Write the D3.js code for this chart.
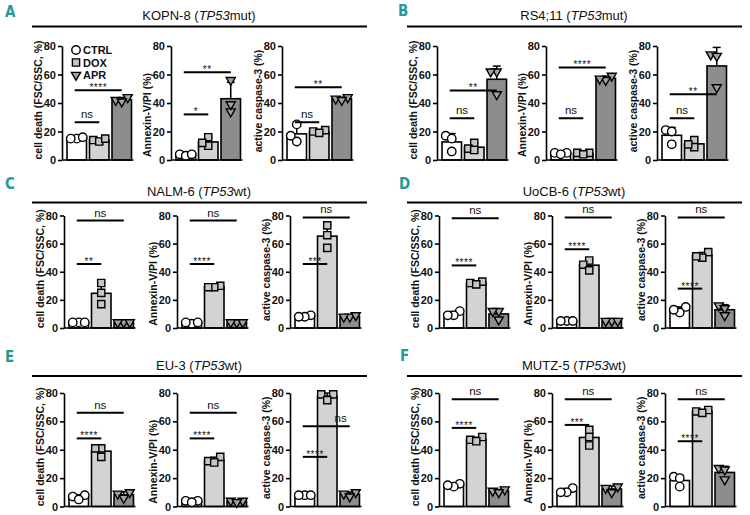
<!DOCTYPE html>
<html><head><meta charset="utf-8">
<script src="https://cdn.jsdelivr.net/npm/d3@7"></script>
<style>
body{margin:0;background:#fff}
svg{display:block}
text{font-family:"Liberation Sans",Arial,sans-serif;fill:#111}
</style>
</head><body>
<svg id="chart" width="750" height="515"></svg>
<script>
// ---------- data ----------
const groups = ["CTRL", "DOX", "APR"];
const measures = ["cell death (FSC/SSC, %)", "Annexin-V/PI (%)", "active caspase-3 (%)"];
const yTicks = [0, 20, 40, 60, 80];
const panelLetters = ["A", "B", "C", "D", "E", "F"];
const cellLines = ["KOPN-8", "RS4;11", "NALM-6", "UoCB-6", "EU-3", "MUTZ-5"];
const tp53Status = ["mut", "mut", "wt", "wt", "wt", "wt"];

// replicate values: [measure][group][replicate]
const kopn8 = [[[15,16,15],[14,13,15],[42,44,41]], [[4,3,4],[16,10,12],[34,56,39]], [[13,25,17],[20,21,19],[43,44,42]]];
const rs411 = [[[6,17,15],[12,8,7],[62,46,62]], [[5,5,4],[5,5,4],[59,56,57]], [[21,11,20],[14,9,11],[74,51,73]]];
const nalm6 = [[[4,4,4],[17,32,25],[4,4,4]], [[3,4,4],[30,29,29],[4,4,4]], [[9,8,8],[57,66,73],[8,9,8]]];
const uocb6 = [[[12,9,9],[33,32,31],[12,12,6]], [[5,5,5],[48,45,41],[5,5,5]], [[15,11,13],[54,50,51],[16,14,9]]];
const eu3   = [[[8,7,5],[41,41,35],[10,9,6]], [[4,4,3],[35,32,31],[4,4,3]], [[8,8,8],[79,79,75],[10,9,7]]];
const mutz5 = [[[16,14,15],[49,47,46],[12,11,10]], [[13,10,10],[54,49,43],[14,13,10]], [[21,20,14],[68,67,66],[27,26,19]]];

// significance brackets: [measure] -> [fromGroup, toGroup, label, value, labelAnchor]
const kopn8Sig = [[[0,1,"ns",26.5],[0,2,"****",49]], [[0,1,"*",32],[0,2,"**",61.5]], [[0,1,"ns",26.5],[0,2,"**",51]]];
const rs411Sig = [[[0,1,"ns",29.3],[0,2,"**",48.8]], [[0,1,"ns",29.3],[0,2,"****",65]], [[0,1,"ns",29.3],[0,2,"**",46.2]]];
const nalm6Sig = [[[0,1,"**",45.5],[0,2,"ns",76.4]], [[0,1,"****",45.5],[0,2,"ns",76.4]], [[0,1,"***",45.5],[0,2,"ns",78.6]]];
const uocb6Sig = [[[0,1,"****",44.5],[0,2,"ns",78]], [[0,1,"****",56],[0,2,"ns",78.6]], [[0,1,"****",28],[0,2,"ns",78.6]]];
const eu3Sig   = [[[0,1,"****",48],[0,2,"ns",66]], [[0,1,"****",48],[0,2,"ns",66]], [[0,1,"****",35],[0,2,"ns",56.5,"end"]]];
const mutz5Sig = [[[0,1,"****",55.4],[0,2,"ns",75.6]], [[0,1,"***",57.5],[0,2,"ns",75.6]], [[0,1,"****",46],[0,2,"ns",75.6]]];

const panelValues = [kopn8, rs411, nalm6, uocb6, eu3, mutz5];
const panelSig = [kopn8Sig, rs411Sig, nalm6Sig, uocb6Sig, eu3Sig, mutz5Sig];

// ---------- layout / style ----------
const colX = [0, 375];
const letterPos = [[5, 17], [398, 16], [5, 189], [399, 189], [5, 362], [400, 361]];
const rows = [
  {titleY: 20, lineY: 26.5, top: 46, zero: 160, axes: [62, 171, 282]},
  {titleY: 196, lineY: 202.5, top: 215.5, zero: 328, axes: [64, 177, 290]},
  {titleY: 370, lineY: 376, top: 393, zero: 506.5, axes: [64, 177, 290]}
];
const barFill = {CTRL: "#ffffff", DOX: "#d3d3d3", APR: "#8d8d8d"};
const markFill = {CTRL: "#ffffff", DOX: "#c6c6c6", APR: "#a3a3a3"};
const labelShift = [-3, 12, -2];
const teal = "#1f9c97";

const svg = d3.select("#chart");

function markerPath(g) {
  if (g === "CTRL") return d3.symbol(d3.symbolCircle, 56)();
  if (g === "DOX") return d3.symbol(d3.symbolSquare, 52)();
  return d3.symbol(d3.symbolTriangle, 36)();
}
function markerTransform(g, x, y) {
  return g === "APR" ? `translate(${x},${y}) rotate(180)` : `translate(${x},${y})`;
}
function layoutPoints(vals, y) {
  const order = vals.map((v, i) => i).sort((a, b) => vals[a] - vals[b]);
  const placed = [], res = new Array(vals.length);
  const offs = [0, -6, 6, -12, 12];
  for (const i of order) {
    const py = y(vals[i]);
    for (const o of offs) {
      if (placed.every(p => Math.abs(p.y - py) >= 7 || Math.abs(p.x - o) >= 5)) {
        placed.push({x: o, y: py}); res[i] = o; break;
      }
    }
  }
  return res;
}

panelLetters.forEach((letter, p) => {
  const col = p % 2, row = Math.floor(p / 2);
  const R = rows[row], X0 = colX[col];
  const g = svg.append("g");

  g.append("text").attr("x", letterPos[p][0]).attr("y", letterPos[p][1])
    .style("font-family", "'Liberation Sans Narrow','DejaVu Sans Condensed',sans-serif")
    .style("font-weight", "bold").style("font-size", "15px").style("fill", teal).text(letter);

  const t = g.append("text").attr("x", X0 + 199).attr("y", R.titleY)
    .attr("text-anchor", "middle").style("font-size", "13px");
  t.append("tspan").text(cellLines[p] + " (");
  t.append("tspan").style("font-style", "italic").text("TP53");
  t.append("tspan").text(tp53Status[p] + ")");

  g.append("line").attr("x1", X0 + 32).attr("x2", X0 + 367)
    .attr("y1", R.lineY).attr("y2", R.lineY).attr("stroke", "#000").attr("stroke-width", 2);

  measures.forEach((mLabel, m) => {
    const ax = X0 + R.axes[m];
    const y = d3.scaleLinear().domain([0, 80]).range([R.zero, R.top]);
    const x = d3.scaleBand().domain(groups).range([ax + 5, ax + 69.5]).paddingInner(0.133).paddingOuter(0);
    const bw = x.bandwidth();
    const sg = g.append("g");

    // y axis
    const yAxis = sg.append("g").attr("transform", `translate(${ax},0)`)
      .call(d3.axisLeft(y).tickValues(yTicks).tickSize(4).tickSizeOuter(0).tickPadding(2));
    yAxis.selectAll("path,line").attr("stroke", "#000").attr("stroke-width", 1.6);
    yAxis.selectAll("text").style("font-size", "11px").style("font-weight", "bold").style("font-family", "'Liberation Sans',Arial,sans-serif").attr("fill", "#111");

    // y label
    sg.append("text")
      .attr("transform", `translate(${ax - 20},${(R.top + R.zero) / 2 + labelShift[m]}) rotate(-90)`)
      .attr("text-anchor", "middle").style("font-size", "10.5px").style("font-weight", "bold")
      .text(mLabel);

    const vals = panelValues[p][m];
    const stats = groups.map((gr, gi) => ({g: gr, mean: d3.mean(vals[gi]), sd: d3.deviation(vals[gi]), vals: vals[gi]}));

    // bars
    sg.selectAll("rect.bar").data(stats).enter().append("rect")
      .attr("x", d => x(d.g)).attr("width", bw)
      .attr("y", d => y(d.mean)).attr("height", d => y(0) - y(d.mean))
      .attr("fill", d => barFill[d.g]).attr("stroke", "#000").attr("stroke-width", 1.6);

    // error bars (mean + SD)
    stats.forEach(d => {
      const cx = x(d.g) + bw / 2;
      sg.append("line").attr("x1", cx).attr("x2", cx).attr("y1", y(d.mean)).attr("y2", y(d.mean + d.sd))
        .attr("stroke", "#000").attr("stroke-width", 1.5);
      sg.append("line").attr("x1", cx - 4).attr("x2", cx + 4).attr("y1", y(d.mean + d.sd)).attr("y2", y(d.mean + d.sd))
        .attr("stroke", "#000").attr("stroke-width", 1.5);
    });

    // x axis baseline
    sg.append("line").attr("x1", ax).attr("x2", x.range()[1] + 2)
      .attr("y1", y(0)).attr("y2", y(0)).attr("stroke", "#000").attr("stroke-width", 1.6);

    // replicate points
    stats.forEach(d => {
      const offs = layoutPoints(d.vals, y);
      const cx = x(d.g) + bw / 2;
      d.vals.forEach((v, i) => {
        sg.append("path").attr("d", markerPath(d.g))
          .attr("transform", markerTransform(d.g, cx + offs[i], y(v)))
          .attr("fill", markFill[d.g]).attr("stroke", "#000").attr("stroke-width", 1.4);
      });
    });

    // significance
    panelSig[p][m].forEach(s => {
      const x1 = x(groups[s[0]]) + bw / 2 - 2, x2 = x(groups[s[1]]) + bw / 2;
      const yy = y(s[3]);
      sg.append("line").attr("x1", x1).attr("x2", x2).attr("y1", yy).attr("y2", yy)
        .attr("stroke", "#000").attr("stroke-width", 2);
      const isNs = s[2] === "ns";
      const anchorEnd = s[4] === "end";
      sg.append("text")
        .attr("x", anchorEnd ? x2 - 3 : (x1 + x2) / 2)
        .attr("y", isNs ? yy - 4 : yy + 1)
        .attr("text-anchor", anchorEnd ? "end" : "middle")
        .style("font-size", isNs ? "11.5px" : "10px")
        .style("letter-spacing", isNs ? "0px" : "0.5px")
        .text(s[2]);
    });

    // legend (first subplot of panel A only)
    if (p === 0 && m === 0) {
      groups.forEach((gr, gi) => {
        const ly = 50 + gi * 12.5;
        sg.append("path").attr("d", markerPath(gr))
          .attr("transform", markerTransform(gr, ax + 14, ly))
          .attr("fill", markFill[gr]).attr("stroke", "#000").attr("stroke-width", 1.4);
        sg.append("text").attr("x", ax + 21).attr("y", ly + 4)
          .style("font-size", "11px").style("font-weight", "bold").text(gr);
      });
    }
  });
});
</script>
</body></html>
